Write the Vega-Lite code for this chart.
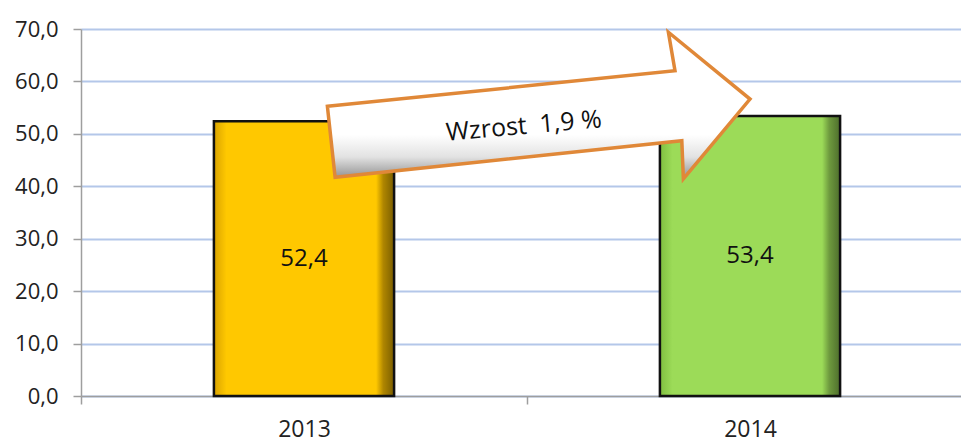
{
  "$schema": "https://vega.github.io/schema/vega-lite/v6.json",
  "autosize": {"type": "none"},
  "width": 892,
  "height": 367,
  "padding": {"left": 81, "top": 29, "right": 0, "bottom": 46},
  "background": "white",
  "config": {
    "locale": {"number": {"decimal": ",", "thousands": " ", "grouping": [3], "currency": ["", " zł"]}},
    "view": {"stroke": null},
    "font": "Open Sans"
  },
  "datasets": {
    "bars": [
      {"rok": "2013", "value": 52.4},
      {"rok": "2014", "value": 53.4}
    ],
    "note": [
      {"pos": 1.026, "level": 55.37, "label": "Wzrost\u00a0 1,9\u00a0%", "tpos": 0.993, "tlevel": 51.5}
    ]
  },
  "encoding": {
    "y": {
      "field": "value", "type": "quantitative",
      "scale": {"domain": [0, 70], "nice": false},
      "axis": {
        "title": null, "values": [0, 10, 20, 30, 40, 50, 60, 70], "format": ".1f",
        "labelFontSize": 22, "labelColor": "#222222", "labelPadding": 15,
        "domainColor": "#9E9E9E", "domainWidth": 1.5,
        "tickColor": "#9E9E9E", "tickWidth": 1.5, "tickSize": 8,
        "grid": true, "gridColor": "#B4C7E9", "gridWidth": 2
      }
    }
  },
  "layer": [
    {
      "data": {"name": "bars"},
      "transform": [{"filter": "datum.rok == '2013'"}],
      "mark": {
        "type": "bar",
        "width": {"band": 0.404},
        "stroke": "#111111",
        "strokeWidth": 2.5,
        "color": {
          "gradient": "linear", "x1": 0, "x2": 1, "y1": 0, "y2": 0,
          "stops": [
            {"offset": 0, "color": "#D9A300"},
            {"offset": 0.07, "color": "#FFC800"},
            {"offset": 0.9, "color": "#FFC800"},
            {"offset": 0.94, "color": "#B08600"},
            {"offset": 1, "color": "#7A5E00"}
          ]
        }
      },
      "encoding": {
        "x": {
          "field": "rok", "type": "nominal", "sort": ["2013", "2014"],
          "scale": {"domain": ["2013", "2014"], "paddingInner": 0, "paddingOuter": 0},
          "axis": {
            "title": null, "labelAngle": 0, "tickBand": "extent",
            "labelFontSize": 23, "labelColor": "#222222", "labelPadding": 14,
            "domainColor": "#9E9E9E", "domainWidth": 1.5,
            "tickColor": "#9E9E9E", "tickWidth": 1.5, "tickSize": 8, "grid": false
          }
        }
      }
    },
    {
      "data": {"name": "bars"},
      "transform": [{"filter": "datum.rok == '2014'"}],
      "mark": {
        "type": "bar",
        "width": {"band": 0.404},
        "stroke": "#111111",
        "strokeWidth": 2.5,
        "color": {
          "gradient": "linear", "x1": 0, "x2": 1, "y1": 0, "y2": 0,
          "stops": [
            {"offset": 0, "color": "#7FBF40"},
            {"offset": 0.07, "color": "#9CDB58"},
            {"offset": 0.9, "color": "#9CDB58"},
            {"offset": 0.94, "color": "#6E9A3E"},
            {"offset": 1, "color": "#4E6E2C"}
          ]
        }
      },
      "encoding": {
        "x": {"field": "rok", "type": "nominal", "scale": {"domain": ["2013", "2014"], "paddingInner": 0, "paddingOuter": 0}, "axis": null}
      }
    },
    {
      "data": {"name": "bars"},
      "transform": [{"calculate": "datum.value / 2", "as": "mid"}],
      "mark": {"type": "text", "fontSize": 24, "color": "#111111", "baseline": "middle", "align": "center"},
      "encoding": {
        "x": {"field": "rok", "type": "nominal", "scale": {"domain": ["2013", "2014"], "paddingInner": 0, "paddingOuter": 0}, "axis": null},
        "y": {"field": "mid", "type": "quantitative"},
        "text": {"field": "value", "type": "quantitative", "format": ".1f"}
      }
    },
    {
      "data": {"name": "note"},
      "layer": [
        {
          "mark": {
            "type": "point",
            "shape": "M-0.96,0.003 L0.62,-0.159 L0.59,-0.334 L0.961,-0.03 L0.658,0.333 L0.651,0.159 L-0.925,0.325 Z",
            "size": 193600,
            "filled": true,
            "opacity": 1,
            "stroke": "#E08838",
            "strokeWidth": 3.5,
            "strokeJoin": "miter",
            "fill": {
              "gradient": "linear", "x1": 0, "x2": 0, "y1": 0, "y2": 1,
              "stops": [
                {"offset": 0, "color": "#FFFFFF"},
                {"offset": 0.7, "color": "#FFFFFF"},
                {"offset": 0.85, "color": "#E2E2E2"},
                {"offset": 1, "color": "#8E8E8E"}
              ]
            }
          },
          "encoding": {
            "x": {"field": "pos", "type": "quantitative", "scale": {"domain": [0, 2], "nice": false, "zero": false}, "axis": null},
            "y": {"field": "level", "type": "quantitative"}
          }
        },
        {
          "mark": {"type": "text", "fontSize": 25, "color": "#111111", "angle": -5, "baseline": "middle", "align": "center"},
          "encoding": {
            "x": {"field": "tpos", "type": "quantitative", "scale": {"domain": [0, 2], "nice": false, "zero": false}, "axis": null},
            "y": {"field": "tlevel", "type": "quantitative"},
            "text": {"field": "label"}
          }
        }
      ]
    }
  ],
  "resolve": {"scale": {"x": "independent"}}
}
